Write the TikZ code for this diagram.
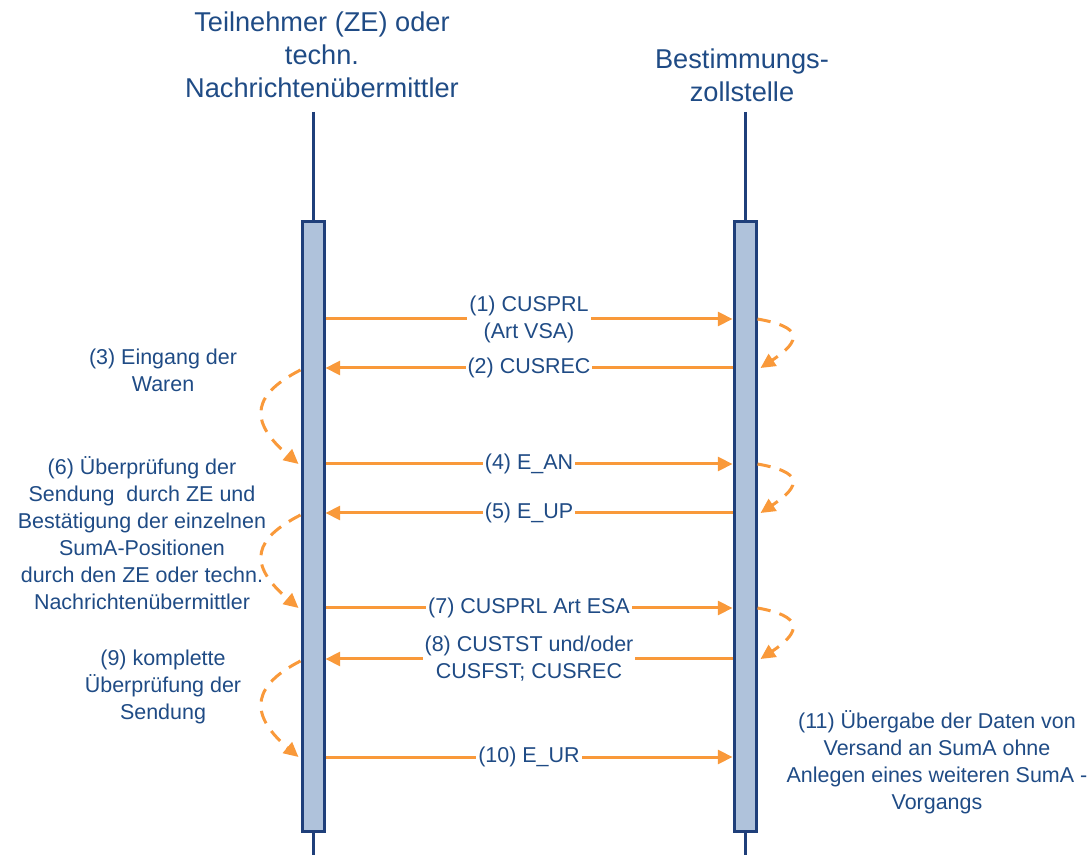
\documentclass[tikz,border=0pt]{standalone}
\usepackage{fontspec}
\setmainfont{Liberation Sans}
\usetikzlibrary{arrows.meta,calc}
\definecolor{txtblue}{HTML}{1F4B85}
\definecolor{lineblue}{HTML}{1F3F7A}
\definecolor{boxfill}{HTML}{AFC2DB}
\definecolor{orng}{HTML}{F9993A}
\begin{document}
\begin{tikzpicture}[x=0.75pt,y=-0.75pt,
  hdr/.style={text=txtblue,font=\fontsize{20.4}{24.75}\selectfont,align=center,inner sep=0pt},
  side/.style={text=txtblue,font=\fontsize{16.1}{20.2}\selectfont,align=center,inner sep=0pt},
  msglbl/.style={text=txtblue,font=\fontsize{16.1}{20.2}\selectfont,align=center,fill=white,inner sep=1.5pt},
  life/.style={draw=lineblue,line width=2.25pt},
  actbox/.style={draw=lineblue,fill=boxfill,line width=2.25pt,minimum width=16.5pt,minimum height=456.75pt,inner sep=0pt},
  msg/.style={draw=orng,line width=2.25pt,-{Triangle[length=11pt,width=10.5pt]}},
  self/.style={draw=orng,line width=2.25pt,dash pattern=on 10pt off 7pt,-{Triangle[length=11pt,width=10.5pt]}}
]
\useasboundingbox (0,0) rectangle (1090,855);
% headers
\node[hdr] (hA) at (322,55) {Teilnehmer (ZE) oder\\techn.\\Nachrichtenübermittler};
\node[hdr] (hB) at (742,75) {Bestimmungs-\\zollstelle};
% lifelines
\coordinate (lAt) at (313,112); \coordinate (lAb) at (313,855);
\coordinate (lBt) at (745,112); \coordinate (lBb) at (745,855);
\draw[life] (lAt) -- (lAb);
\draw[life] (lBt) -- (lBb);
% activation boxes
\node[actbox] (bA) at (313,526.5) {};
\node[actbox] (bB) at (745,526.5) {};
% message endpoints
\foreach \n/\y in {1/319,2/368,4/464,5/513,7/608,8/659,10/757}{
  \coordinate (a\n) at (bA.east |- 0,\y);
  \coordinate (b\n) at (bB.west |- 0,\y);
  \coordinate (aw\n) at (bA.west |- 0,\y);
  \coordinate (be\n) at (bB.east |- 0,\y);
}
% messages
\draw[msg] (a1) -- node[msglbl]{(1) CUSPRL\\(Art VSA)} (b1);
\draw[msg] (b2) -- node[msglbl]{(2) CUSREC} (a2);
\draw[msg] (a4) -- node[msglbl]{(4) E\_AN} (b4);
\draw[msg] (b5) -- node[msglbl]{(5) E\_UP} (a5);
\draw[msg] (a7) -- node[msglbl]{(7) CUSPRL Art ESA} (b7);
\draw[msg] (b8) -- node[msglbl]{(8) CUSTST und/oder\\CUSFST; CUSREC} (a8);
\draw[msg] (a10) -- node[msglbl]{(10) E\_UR} (b10);
% self arrows right
\draw[self] (be1) .. controls ($(be1)+(45,8)$) and ($(be2)+(45,-28)$) .. ($(be2)+(3,0)$);
\draw[self] (be4) .. controls ($(be4)+(45,8)$) and ($(be5)+(45,-28)$) .. ($(be5)+(3,0)$);
\draw[self] (be7) .. controls ($(be7)+(45,8)$) and ($(be8)+(45,-28)$) .. ($(be8)+(3,0)$);
% self arrows left
\draw[self] ($(aw2)+(0,2)$) .. controls ($(aw2)+(-45,25)$) and ($(aw4)+(-55,-45)$) .. ($(aw4)+(-2,0)$);
\draw[self] ($(aw5)+(0,2)$) .. controls ($(aw5)+(-45,25)$) and ($(aw7)+(-55,-45)$) .. ($(aw7)+(-2,0)$);
\draw[self] ($(aw8)+(0,2)$) .. controls ($(aw8)+(-45,25)$) and ($(aw10)+(-55,-45)$) .. ($(aw10)+(-2,0)$);
% side notes
\node[side] (n3) at (163,370) {(3) Eingang der\\Waren};
\node[side] (n6) at (142,533) {(6) Überprüfung der\\Sendung\ \ durch ZE und\\Bestätigung der einzelnen\\SumA-Positionen\\durch den ZE oder techn.\\Nachrichtenübermittler};
\node[side] (n9) at (163,687) {(9) komplette\\Überprüfung der\\Sendung};
\node[side] (n11) at (937,762) {(11) Übergabe der Daten von\\Versand an SumA ohne\\Anlegen eines weiteren SumA -\\Vorgangs};
\end{tikzpicture}
\end{document}
